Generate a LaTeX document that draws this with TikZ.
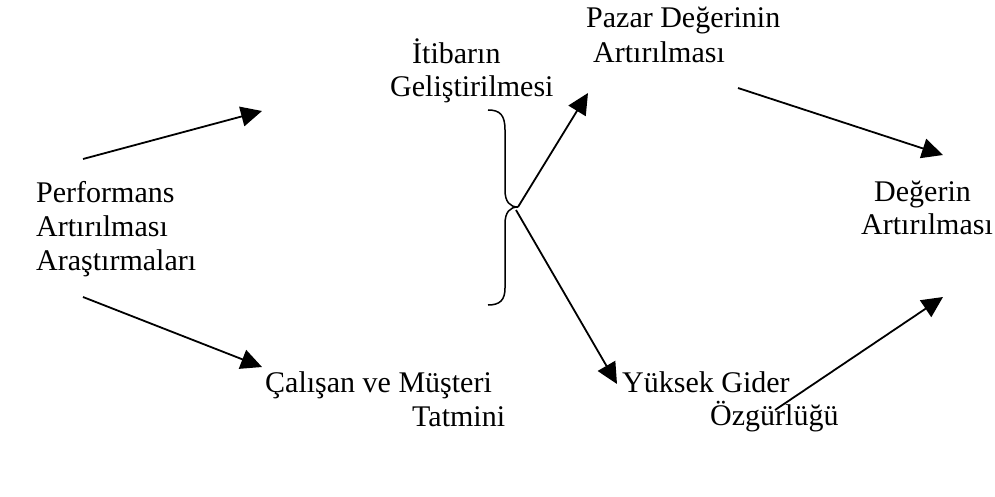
\documentclass[tikz,border=0pt]{standalone}
\usepackage{fontspec}
\setmainfont{Liberation Serif}
\usetikzlibrary{arrows.meta}
\begin{document}
\begin{tikzpicture}[x=1pt,y=-1pt,
  lbl/.style={anchor=base west,inner sep=0pt,font=\fontsize{30}{35}\selectfont},
  arr/.style={line width=1.8pt,-{Triangle[length=21pt,width=20pt]}},
  bracepath/.style={line width=1.5pt}]
\useasboundingbox (0,0) rectangle (995,497);
\fill[white] (0,0) rectangle (995,497);

% labels
\node[lbl] (perfA) at (36,202) {Performans};
\node[lbl] (perfB) at (36,236) {Artırılması};
\node[lbl] (perfC) at (36,270) {Araştırmaları};
\node[lbl] (itibA) at (412,64) {İtibarın};
\node[lbl] (itibB) at (390,97) {Geliştirilmesi};
\node[lbl] (pazA) at (586,28) {Pazar Değerinin};
\node[lbl] (pazB) at (593,63) {Artırılması};
\node[lbl] (degA) at (874,201) {Değerin};
\node[lbl] (degB) at (861,234) {Artırılması};
\node[lbl] (calA) at (265,392) {Çalışan ve Müşteri};
\node[lbl] (calB) at (412,426) {Tatmini};
\node[lbl] (yukA) at (622,392) {Yüksek Gider};
\node[lbl] (yukB) at (710,425) {Özgürlüğü};

% arrow end points
\coordinate (p1s) at (83,159);   \coordinate (p1e) at (262,111);
\coordinate (p2s) at (83,297);   \coordinate (p2e) at (262,367);
\coordinate (bt)  at (518,207);
\coordinate (b1e) at (588,93);
\coordinate (b2s) at (516,210);  \coordinate (b2e) at (617,384);
\coordinate (v1s) at (738,88);   \coordinate (v1e) at (943,155);
\coordinate (v2s) at (775,410);  \coordinate (v2e) at (943,297);

% curly brace
\draw[bracepath] (488,110) .. controls (500,110) and (505,115) .. (505,130)
  -- (505,190) .. controls (505,202) and (510,207) .. (bt)
  .. controls (510,207) and (505,212) .. (505,224)
  -- (505,288) .. controls (505,300) and (500,305) .. (488,305);

% arrows
\draw[arr] (p1s) -- (p1e);
\draw[arr] (p2s) -- (p2e);
\draw[arr] (bt) -- (b1e);
\draw[arr] (b2s) -- (b2e);
\draw[arr] (v1s) -- (v1e);
\draw[arr] (v2s) -- (v2e);
\end{tikzpicture}
\end{document}
